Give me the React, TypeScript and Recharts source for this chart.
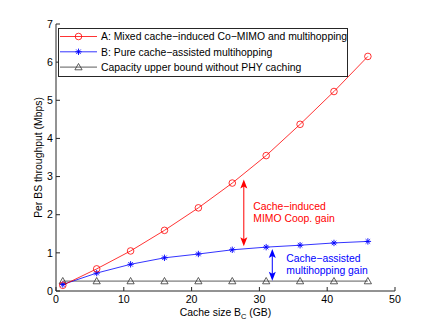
import React from "react";
import { LineChart, Line, XAxis, YAxis, Legend, ReferenceLine, Label } from "recharts";

const cacheSizes = [1, 6, 11, 16, 21, 26, 31, 36, 41, 46];
const mixedCoMimo = [0.15, 0.58, 1.05, 1.59, 2.18, 2.83, 3.55, 4.37, 5.23, 6.15];
const pureMultihop = [0.17, 0.47, 0.7, 0.87, 0.97, 1.08, 1.15, 1.2, 1.26, 1.3];
const upperBound = [0.26, 0.26, 0.26, 0.26, 0.26, 0.26, 0.26, 0.26, 0.26, 0.26];
const xTicks = [0, 10, 20, 30, 40, 50];
const yTicks = [0, 1, 2, 3, 4, 5, 6, 7];
const seriesNames = [
  "A: Mixed cache\u2212induced Co\u2212MIMO and multihopping",
  "B: Pure cache\u2212assisted multihopping",
  "Capacity upper bound without PHY caching",
];

const RED = "#ff0000";
const BLUE = "#0000ff";
const GREY = "#333333";
const FRAME = "#262626";
const FONT = "'Liberation Sans', Arial, Helvetica, sans-serif";
const FS = 10.4;

const data = cacheSizes.map((x, i) => ({
  x,
  a: mixedCoMimo[i],
  b: pureMultihop[i],
  c: upperBound[i],
}));

function CircleMark({ cx, cy }: { cx: number; cy: number }) {
  return <circle cx={cx} cy={cy} r={3.3} fill="none" stroke={RED} strokeWidth={0.8} />;
}

function StarMark({ cx, cy }: { cx: number; cy: number }) {
  const s = 3.2;
  const d = s * 0.7;
  return (
    <g stroke={BLUE} strokeWidth={0.9}>
      <line x1={cx - s} y1={cy} x2={cx + s} y2={cy} />
      <line x1={cx} y1={cy - s} x2={cx} y2={cy + s} />
      <line x1={cx - d} y1={cy - d} x2={cx + d} y2={cy + d} />
      <line x1={cx - d} y1={cy + d} x2={cx + d} y2={cy - d} />
    </g>
  );
}

function TriangleMark({ cx, cy }: { cx: number; cy: number }) {
  const s = 3.6;
  return (
    <polygon
      points={`${cx},${cy - s} ${cx + s},${cy + s * 0.75} ${cx - s},${cy + s * 0.75}`}
      fill="none"
      stroke={GREY}
      strokeWidth={0.8}
    />
  );
}

const markers = [CircleMark, StarMark, TriangleMark];
const colors = [RED, BLUE, GREY];

function dotFor(idx: number) {
  const Mark = markers[idx];
  return (props: any) => <Mark key={`m${idx}-${props.index}`} cx={props.cx} cy={props.cy} />;
}

function LegendBox() {
  return (
    <svg width={290} height={49} style={{ display: "block" }}>
      <rect x={0.5} y={0.5} width={289} height={48} fill="#fff" stroke={FRAME} />
      {seriesNames.map((name, i) => {
        const y = 8.5 + i * 15.3;
        const Mark = markers[i];
        return (
          <g key={name}>
            <line x1={2} y1={y} x2={39} y2={y} stroke={colors[i]} strokeWidth={0.8} />
            <Mark cx={20.5} cy={y} />
            <text x={43} y={y + 3.7} fontSize={FS} fontFamily={FONT} fill="#000">
              {name}
            </text>
          </g>
        );
      })}
    </svg>
  );
}

function arrowShape(color: string, lines: string[], dx: number) {
  return (props: any) => {
    const { x1, y1, x2, y2 } = props;
    const top = Math.min(y1, y2);
    const bot = Math.max(y1, y2);
    const hw = 3.5;
    const hl = 9;
    const mid = (top + bot) / 2;
    return (
      <g>
        <line x1={x1} y1={top + 4} x2={x2} y2={bot - 4} stroke={color} strokeWidth={1} />
        <polygon points={`${x1},${top} ${x1 + hw},${top + hl} ${x1},${top + hl - 2} ${x1 - hw},${top + hl}`} fill={color} />
        <polygon points={`${x1},${bot} ${x1 + hw},${bot - hl} ${x1},${bot - hl + 2} ${x1 - hw},${bot - hl}`} fill={color} />
        {lines.map((t, i) => (
          <text
            key={t}
            x={x1 + dx}
            y={mid + (i - (lines.length - 1) / 2) * 12 + 3.5}
            fontSize={FS}
            fontFamily={FONT}
            fill={color}
          >
            {t}
          </text>
        ))}
      </g>
    );
  };
}

export default function App() {
  return (
    <div style={{ position: "absolute", left: 0, top: 0, background: "#fff" }}>
      <LineChart
        width={436}
        height={328}
        data={data}
        margin={{ top: 24, right: 41, left: 0, bottom: 0 }}
        style={{ fontFamily: FONT }}
      >
        <XAxis
          dataKey="x"
          type="number"
          domain={[0, 50]}
          ticks={xTicks}
          height={37}
          stroke={FRAME}
          tickSize={-4}
          tickMargin={8}
          tick={{ fontSize: 10.6, fill: "#000" }}
        >
          <Label
            content={(p: any) => {
              const vb = p.viewBox;
              return (
                <text x={vb.x + vb.width / 2} y={vb.y + 25} textAnchor="middle" fontSize={FS} fontFamily={FONT} fill="#000">
                  Cache size B
                  <tspan fontSize={7.5} dy={3}>C</tspan>
                  <tspan dy={-3}> (GB)</tspan>
                </text>
              );
            }}
          />
        </XAxis>
        <XAxis
          xAxisId="top"
          orientation="top"
          dataKey="x"
          type="number"
          domain={[0, 50]}
          ticks={xTicks}
          height={0}
          stroke={FRAME}
          tickSize={-4}
          tickFormatter={() => ""}
        />
        <YAxis
          type="number"
          domain={[0, 7]}
          ticks={yTicks}
          width={56}
          stroke={FRAME}
          tickSize={-4}
          tickMargin={7}
          tick={{ fontSize: 10.6, fill: "#000" }}
        >
          <Label
            content={(p: any) => {
              const vb = p.viewBox;
              const cx = vb.x + 38.5;
              const cy = vb.y + vb.height / 2;
              return (
                <text
                  x={cx}
                  y={cy}
                  transform={`rotate(-90 ${cx} ${cy})`}
                  textAnchor="middle"
                  dominantBaseline="central"
                  fontSize={FS}
                  fontFamily={FONT}
                  fill="#000"
                >
                  Per BS throughput (Mbps)
                </text>
              );
            }}
          />
        </YAxis>
        <YAxis
          yAxisId="right"
          orientation="right"
          type="number"
          domain={[0, 7]}
          ticks={yTicks}
          width={0}
          stroke={FRAME}
          tickSize={-4}
          tickFormatter={() => ""}
        />
        <Line
          dataKey="c"
          name={seriesNames[2]}
          stroke={GREY}
          strokeWidth={0.8}
          dot={dotFor(2)}
          isAnimationActive={false}
        />
        <Line
          dataKey="b"
          name={seriesNames[1]}
          stroke={BLUE}
          strokeWidth={0.8}
          dot={dotFor(1)}
          isAnimationActive={false}
        />
        <Line
          dataKey="a"
          name={seriesNames[0]}
          stroke={RED}
          strokeWidth={0.8}
          dot={dotFor(0)}
          isAnimationActive={false}
        />
        <ReferenceLine
          segment={[
            { x: 27.7, y: 1.17 },
            { x: 27.7, y: 2.92 },
          ]}
          shape={arrowShape(RED, ["Cache\u2212induced", "MIMO Coop. gain"], 9.5)}
        />
        <ReferenceLine
          segment={[
            { x: 31.9, y: 0.27 },
            { x: 31.9, y: 1.1 },
          ]}
          shape={arrowShape(BLUE, ["Cache\u2212assisted", "multihopping gain"], 14)}
        />
        <Legend
          layout="vertical"
          align="center"
          verticalAlign="middle"
          wrapperStyle={{ left: 58, top: 28, width: 290, height: 49 }}
          content={() => <LegendBox />}
        />
      </LineChart>
    </div>
  );
}
